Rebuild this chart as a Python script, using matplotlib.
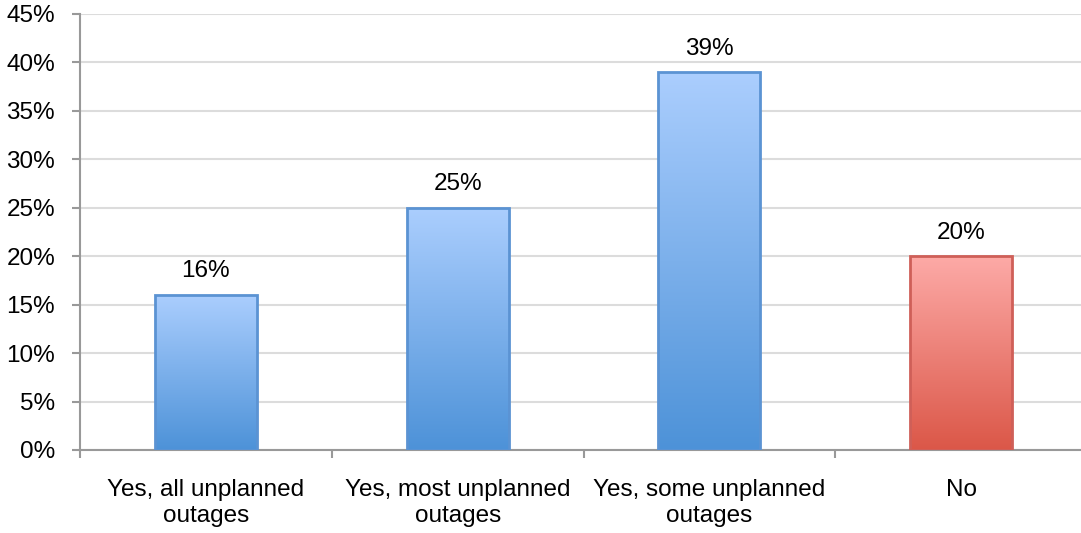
import matplotlib.pyplot as plt
import numpy as np
from matplotlib.colors import LinearSegmentedColormap

# data
categories = ["Yes, all unplanned\noutages", "Yes, most unplanned\noutages",
              "Yes, some unplanned\noutages", "No"]
values = [16, 25, 39, 20]
top_colors = ["#abcefe", "#abcefe", "#abcefe", "#fdaaa7"]
bottom_colors = ["#4d92d8", "#4d92d8", "#4d92d8", "#db5748"]
edge_colors = ["#5b93d3", "#5b93d3", "#5b93d3", "#cf5f58"]

plt.rcParams['font.family'] = ['Liberation Sans', 'DejaVu Sans']
fs = 17.5

fig = plt.figure(figsize=(10.81, 5.33), dpi=100)
ax = fig.add_axes([80/1081, (533-450)/533, 1007/1081, 436/533])

x = np.arange(len(categories))
bars = ax.bar(x, values, width=0.405, color='none', zorder=3)

grad = np.linspace(0, 1, 256).reshape(-1, 1)
for b, tc, bc, ec, v in zip(bars, top_colors, bottom_colors, edge_colors, values):
    cmap = LinearSegmentedColormap.from_list("g", [bc, tc])
    x0, y0 = b.get_x(), b.get_y()
    w, h = b.get_width(), b.get_height()
    im = ax.imshow(grad, cmap=cmap, aspect='auto', origin='lower',
                   extent=[x0, x0 + w, y0, y0 + h], zorder=3)
    im.set_clip_path(b)
    ax.add_patch(plt.Rectangle((x0, y0), w, h, fill=False, edgecolor=ec,
                               linewidth=2, zorder=4))
    ax.text(x0 + w/2, v + 1.3, f"{v}%", ha='center', va='bottom', fontsize=fs)

ax.set_xlim(-0.5, len(categories) - 0.5)
ax.set_ylim(0, 45)
ax.set_yticks(np.arange(0, 46, 5))
ax.set_yticklabels([f"{t}%" for t in range(0, 46, 5)], fontsize=fs)
ax.yaxis.grid(True, color='#dcdcdc', linewidth=1.5, zorder=0)
ax.set_axisbelow(True)

# category boundaries as major ticks, labels as minor
ax.set_xticks(np.arange(-0.5, len(categories), 1))
ax.set_xticklabels([])
ax.set_xticks(x, minor=True)
ax.set_xticklabels(categories, minor=True, fontsize=fs, linespacing=1.22)
ax.tick_params(axis='x', which='minor', length=0, pad=21)
ax.tick_params(axis='x', which='major', length=6, width=1.5, color='#999999')
ax.tick_params(axis='y', length=6, width=1.5, color='#999999', pad=12)

for s in ['top', 'right']:
    ax.spines[s].set_visible(False)
for s in ['left', 'bottom']:
    ax.spines[s].set_color('#999999')
    ax.spines[s].set_linewidth(1.5)

fig.savefig("out.png", dpi=100)
